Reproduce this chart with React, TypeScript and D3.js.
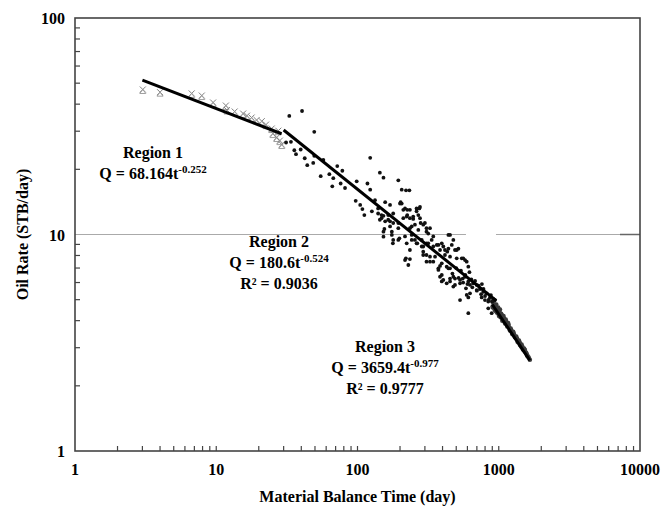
import React from 'react';
import * as d3 from 'd3';

const xTicks = [1, 10, 100, 1000, 10000];
const yTicks = [1, 10, 100];

// Region 1 (gray cross markers): [material balance time, oil rate]
const region1: [number, number][] = [
  [3.02, 46.5], [4.0, 45.2], [6.7, 44.6], [7.9, 43.6], [9.5, 40.5], [11.7, 39.2], [11.9, 37.4],
  [13.5, 36.8], [15.5, 36.0], [16.5, 35.2], [17.8, 34.5], [19.3, 33.6], [21.0, 33.2], [22.5, 32.0],
  [24.7, 30.7], [25.2, 29.1], [26.8, 27.9], [27.5, 30.0], [28.2, 27.0], [29.1, 25.9],
];

// Region 2 (black dots)
const region2: [number, number][] = [
  [32.9, 35.3], [40.5, 37.2], [49.4, 29.8], [31.2, 26.6], [33.8, 26.8], [35.7, 24.5], [36.7, 23.5],
  [39.6, 24.7], [42.3, 22.5], [44.1, 20.9], [48.6, 21.4], [49.4, 23.1], [54.9, 18.6], [57.3, 22.1],
  [63.2, 19.0], [66.3, 16.7], [67.4, 18.2], [71.9, 20.7], [76.0, 17.2], [78.1, 19.7], [81.6, 16.4],
  [98.7, 17.6], [117.6, 17.2], [123, 22.6], [123, 16.1], [97.1, 14.3], [104.5, 13.7], [108.3, 13.1],
  [111.8, 12.3], [126.4, 12.8], [133, 14.4], [144, 19.3], [152.7, 18.3], [157, 14.1], [140, 12.5],
  [148, 11.9], [165, 12.3], [194.5, 17.8], [205.6, 16.1], [220.5, 16.0], [233, 16.0], [205.6, 13.9],
  [217, 13.2], [225, 12.3], [235, 11.9], [262, 13.2], [269.5, 12.3],
  [140, 13.2], [144, 11.7], [152.7, 12.2], [157, 11.5], [170, 13.7], [179, 12.5], [170, 11.5],
  [202, 14.1], [211, 13.0], [225, 13.0], [223, 12.1], [248, 11.8], [262, 12.8], [274, 13.2],
  [277, 11.9], [280, 11.3], [300, 11.3], [308, 10.7], [317, 10.1], [155, 10.6], [175, 9.95],
  [179, 9.44], [178, 9.1], [194.5, 10.7], [198, 9.6], [217, 9.8], [235, 10.7], [242, 9.95],
  [255, 9.44], [265, 9.1], [285, 9.44], [292, 8.8], [317, 9.1], [335, 9.44], [344, 9.8],
  [364, 8.95], [384, 8.48], [405, 8.8], [440, 9.95], [477, 9.44], [504, 8.48], [416, 8.04],
  [432, 8.33], [452, 7.9], [547, 7.76], [577, 7.62], [235, 8.48], [220, 7.76], [235, 7.7],
  [229, 7.23], [292, 8.04], [308, 8.04], [326, 7.9], [344, 7.49], [384, 7.16], [374, 6.86],
  [395, 6.5], [405, 6.17], [440, 6.98], [452, 6.07], [490, 6.26], [477, 5.75], [532, 5.95],
  [556, 6.26], [586, 5.64], [532, 4.98], [593, 5.26], [609, 4.33], [152.7, 9.77], [170, 10.9],
  [200, 13.9], [235, 13.0], [277, 13.4], [148, 12.3], [165, 11.7], [179, 11.3], [194.5, 11.3],
  [211, 11.9], [248, 12.1], [242, 10.9], [255, 11.1], [269.5, 10.5], [292, 11.1], [308, 10.3],
  [326, 10.7], [452, 9.95], [175, 10.3], [152.7, 10.3], [194.5, 9.44], [223, 9.1], [242, 9.44],
  [262, 9.1], [285, 8.8], [292, 8.33], [308, 9.1], [344, 8.8], [374, 8.95], [395, 9.1],
  [416, 8.48], [440, 8.6], [465, 8.95], [490, 8.48], [518, 8.6], [504, 7.76], [561, 7.76],
  [593, 7.49], [609, 7.1], [217, 7.62], [308, 7.49], [326, 7.49], [354, 7.9], [374, 6.98],
  [395, 7.36], [428, 7.1], [452, 6.98], [384, 6.38], [395, 6.07], [428, 5.95], [452, 6.26],
  [477, 6.38], [490, 5.85], [532, 6.17], [577, 6.38], [609, 6.07], [626, 5.85], [660, 5.95],
  [698, 5.85], [736, 5.6], [777, 5.44], [821, 5.35], [867, 5.12], [914, 5.04], [940, 4.98],
  [609, 5.12], [698, 5.54], [757, 5.12], [799, 4.98], [843, 4.9], [843, 4.56], [891, 4.33],
  [626, 5.35], [470, 6.6], [520, 6.3], [560, 6.0], [600, 5.9], [650, 5.7], [700, 5.5],
  [750, 5.3], [800, 5.2], [850, 5.0], [900, 4.9], [640, 6.2], [720, 5.8], [780, 5.6],
  [880, 5.25], [500, 7.0], [540, 6.8], [580, 6.5], [620, 6.7], [680, 6.1], [760, 5.9],
];

// Region 3 (dark gray dots)
const region3: [number, number][] = [
  [900, 4.9], [910, 4.6], [920, 4.8], [935, 4.5], [950, 4.7], [965, 4.4], [980, 4.55], [995, 4.3],
  [1010, 4.4], [1030, 4.15], [1050, 4.25], [1070, 4.05], [1090, 4.1], [1110, 3.88], [1130, 3.95],
  [1150, 3.76], [1175, 3.82], [1200, 3.6], [1225, 3.62], [1250, 3.46], [1275, 3.5], [1300, 3.36],
  [1330, 3.38], [1360, 3.2], [1390, 3.24], [1420, 3.08], [1450, 3.1], [1480, 2.96], [1510, 2.97],
  [1540, 2.87], [1570, 2.82], [1600, 2.74], [1630, 2.7], [1660, 2.64],
  [905, 4.65], [925, 4.95], [945, 4.45], [960, 4.75], [975, 4.35], [990, 4.6], [1005, 4.2],
  [1020, 4.5], [1040, 4.3], [1060, 4.0], [1080, 4.2], [1100, 3.95], [1120, 4.05], [1140, 3.82],
  [1165, 3.9], [1190, 3.7], [1215, 3.68], [1240, 3.52], [1265, 3.55], [1290, 3.42], [1320, 3.32],
  [1350, 3.3], [1380, 3.17], [1410, 3.16], [1440, 3.04], [1470, 3.03], [1500, 2.92], [1530, 2.93],
  [1560, 2.84], [1590, 2.77],
];

// Fitted power-law lines, end points
const fit1: [number, number][] = [[3, 51.7], [29, 29.2]];
const fit2: [number, number][] = [[30, 30.4], [960, 4.95]];
const fit3: [number, number][] = [[900, 4.75], [1660, 2.62]];

const gridSegments: [number, number][] = [[1, 586], [956, 10000]];

type Ann = { lines: { main: string; sup?: string }[]; x: number; y: number };
const annotations: Ann[] = [
  { x: 153, y: 158, lines: [{ main: 'Region 1' }, { main: 'Q = 68.164t', sup: '-0.252' }] },
  { x: 279, y: 247, lines: [{ main: 'Region 2' }, { main: 'Q = 180.6t', sup: '-0.524' }, { main: 'R² = 0.9036' }] },
  { x: 385, y: 352, lines: [{ main: 'Region 3' }, { main: 'Q = 3659.4t', sup: '-0.977' }, { main: 'R² = 0.9777' }] },
];

const W = 663, H = 508;
const L = 75, R = 640, T = 18, B = 451;
const FONT = '"Liberation Serif", "Times New Roman", serif';

export default function App() {
  const x = d3.scaleLog().domain([1, 10000]).range([L, R]);
  const y = d3.scaleLog().domain([1, 100]).range([B, T]);
  const line = d3.line<[number, number]>().x(d => x(d[0])).y(d => y(d[1]));

  const xMinor: number[] = [];
  for (let d = 1; d < 10000; d *= 10) for (let k = 2; k <= 9; k++) xMinor.push(d * k);
  xMinor.push(...[10, 100, 1000]);
  const yMinor: number[] = [];
  for (let d = 1; d < 100; d *= 10) for (let k = 2; k <= 9; k++) yMinor.push(d * k);

  return (
    <svg width={W} height={H} style={{ position: 'absolute', left: 0, top: 0, background: '#fff' }} fontFamily={FONT}>
      <rect x={0} y={0} width={W} height={H} fill="#fff" />
      {gridSegments.map((s, i) => (
        <line key={i} x1={x(s[0])} x2={x(s[1])} y1={y(10)} y2={y(10)} stroke="#aaa" strokeWidth={1.2} />
      ))}
      <line x1={R - 20} x2={R} y1={y(10)} y2={y(10)} stroke="#666" strokeWidth={1.5} />
      <rect x={L} y={T} width={R - L} height={B - T} fill="none" stroke="#444" strokeWidth={1.6} />
      {xMinor.map((v, i) => (
        <line key={'xm' + i} x1={x(v)} x2={x(v)} y1={B} y2={B - 5} stroke="#444" strokeWidth={1.2} />
      ))}
      {yMinor.map((v, i) => (
        <line key={'ym' + i} x1={L} x2={L + 5} y1={y(v)} y2={y(v)} stroke="#444" strokeWidth={1.2} />
      ))}
      {region1.map((d, i) => {
        const cx = x(d[0]), cy = y(d[1]);
        return (
          <g key={'r1' + i} stroke="#7f7f7f" strokeWidth={1} fill="none">
            <path d={`M${cx - 3},${cy - 3.5}L${cx + 3},${cy + 2.5}M${cx + 3},${cy - 3.5}L${cx - 3},${cy + 2.5}`} />
            <path d={`M${cx},${cy - 0.5}L${cx + 3},${cy + 3.5}L${cx - 3},${cy + 3.5}Z`} stroke="#a0a0a0" />
          </g>
        );
      })}
      {region3.map((d, i) => (
        <circle key={'r3' + i} cx={x(d[0])} cy={y(d[1])} r={2.3} fill="#3a3a3a" />
      ))}
      {region2.map((d, i) => (
        <circle key={'r2' + i} cx={x(d[0])} cy={y(d[1])} r={1.9} fill="#111" />
      ))}
      {[fit1, fit2, fit3].map((f, i) => (
        <path key={'f' + i} d={line(f) || ''} stroke="#000" strokeWidth={3} fill="none" />
      ))}
      {xTicks.map((v, i) => (
        <text key={'xt' + i} x={x(v)} y={B + 24} textAnchor="middle" fontSize={16} fontWeight="bold">{v}</text>
      ))}
      {yTicks.map((v, i) => (
        <text key={'yt' + i} x={L - 10} y={y(v) + 6} textAnchor="end" fontSize={16} fontWeight="bold">{v}</text>
      ))}
      <text x={(L + R) / 2} y={502} textAnchor="middle" fontSize={16} fontWeight="bold">Material Balance Time (day)</text>
      <text transform={`translate(28,${(T + B) / 2}) rotate(-90)`} textAnchor="middle" fontSize={16} fontWeight="bold">Oil Rate (STB/day)</text>
      {annotations.map((a, i) => (
        <g key={'a' + i}>
          {a.lines.map((ln, j) => (
            <text key={j} x={a.x} y={a.y + j * 21} textAnchor="middle" fontSize={16} fontWeight="bold">
              {ln.main}
              {ln.sup ? <tspan dy={-6} fontSize={11}>{ln.sup}</tspan> : null}
            </text>
          ))}
        </g>
      ))}
    </svg>
  );
}
